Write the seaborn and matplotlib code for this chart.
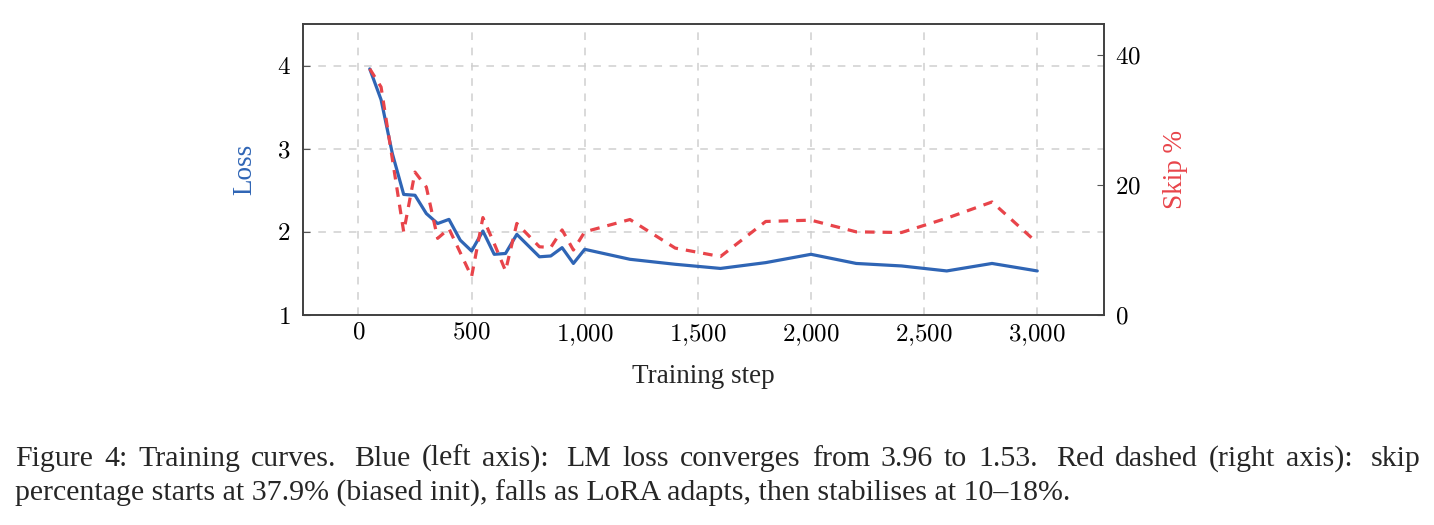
import matplotlib
matplotlib.use("Agg")
import matplotlib.pyplot as plt
import matplotlib.ticker as mticker
import seaborn as sns
import pandas as pd

# ---- data ----
steps_loss = [50, 100, 150, 200, 250, 300, 350, 400, 450, 500, 550, 600, 650, 700,
              800, 850, 900, 950, 1000, 1200, 1400, 1600, 1800, 2000, 2200, 2400,
              2600, 2800, 3000]
loss = [3.96, 3.59, 2.94, 2.45, 2.44, 2.22, 2.10, 2.15, 1.90, 1.77, 2.01, 1.73, 1.74, 1.97,
        1.70, 1.71, 1.81, 1.62, 1.79, 1.67, 1.61, 1.56, 1.63, 1.73, 1.62, 1.59,
        1.53, 1.62, 1.53]

steps_skip = [50, 100, 150, 200, 250, 300, 350, 400, 500, 550, 600, 650, 700,
              800, 850, 900, 950, 1000, 1200, 1400, 1600, 1800, 2000, 2200, 2400,
              2600, 2800, 3000]
skip = [37.9, 35.1, 24.0, 12.8, 22.0, 19.7, 11.8, 13.3, 5.9, 15.0, 11.0, 6.8, 14.1,
        10.5, 10.4, 13.1, 10.0, 12.8, 14.7, 10.3, 9.0, 14.4, 14.6, 12.8, 12.7,
        14.9, 17.4, 11.1]

x_ticks = [0, 500, 1000, 1500, 2000, 2500, 3000]
loss_ticks = [1, 2, 3, 4]
skip_ticks = [0, 20, 40]

caption_line1 = ("Figure 4: Training curves.  Blue (left axis): LM loss converges from 3.96 to 1.53.  "
                 "Red dashed (right axis):  skip")
caption_line2 = ("percentage starts at 37.9% (biased init), falls as LoRA adapts, "
                 "then stabilises at 10\u201318%.")

BLUE = "#2F65B5"
RED = "#E8444A"

sns.set_theme(style="white")
plt.rcParams['font.family'] = ['Liberation Serif', 'DejaVu Serif']
plt.rcParams['mathtext.fontset'] = 'cm'

W, H = 1434, 525
fig = plt.figure(figsize=(W / 100, H / 100), dpi=100)
ax = fig.add_axes([303 / W, 1 - 315 / H, (1104 - 303) / W, (315 - 24) / H])
ax2 = ax.twinx()

df_loss = pd.DataFrame({"step": steps_loss, "loss": loss})
df_skip = pd.DataFrame({"step": steps_skip, "skip": skip})

sns.lineplot(data=df_loss, x="step", y="loss", ax=ax, color=BLUE, linewidth=2.3)
sns.lineplot(data=df_skip, x="step", y="skip", ax=ax2, color=RED, linewidth=2.3,
             linestyle=(0, (3.0, 2.5)))

ax.set_xlim(-245, 3295)
ax.set_ylim(1, 4.5)
ax2.set_ylim(0, 44.8)


def math_fmt(v, p):
    s = f"{int(round(v)):,}".replace(",", "{,}")
    return f"${s}$"


ax.set_xticks(x_ticks)
ax.xaxis.set_major_formatter(mticker.FuncFormatter(math_fmt))
ax.set_yticks(loss_ticks)
ax.yaxis.set_major_formatter(mticker.FuncFormatter(math_fmt))
ax2.set_yticks(skip_ticks)
ax2.yaxis.set_major_formatter(mticker.FuncFormatter(math_fmt))

ax.grid(True, color="#cfcfcf", linestyle=(0, (5, 5)), linewidth=1.1)
ax2.grid(False)
ax.set_axisbelow(True)

for a in (ax, ax2):
    for s in a.spines.values():
        s.set_color("#404040")
        s.set_linewidth(1.2)
        s.set_visible(True)

ax.tick_params(axis="x", direction="in", length=5, width=0.8, color="#555555",
               labelsize=18, pad=5, labelcolor="black")
ax.tick_params(axis="y", direction="in", length=5, width=0.8, color="#555555",
               labelsize=18, pad=9, labelcolor="black")
ax2.tick_params(axis="y", direction="in", length=5, width=0.8, color="#555555",
                labelsize=18, pad=8, labelcolor="black")

ax.set_xlabel("Training step", fontsize=19.5, labelpad=12)
ax.set_ylabel("Loss", fontsize=19.5, color=BLUE, labelpad=14)
ax2.set_ylabel("Skip %", fontsize=19.5, color=RED, labelpad=16)

# ---- caption (line 1 justified to the full width, line 2 left aligned) ----
CAP_FS = 21.5
x_left, x_right = 15, 1420
y1 = 1 - 466 / H
y2 = 1 - 501 / H
renderer = fig.canvas.get_renderer()
words = caption_line1.split()
texts = [fig.text(0, y1, w, fontsize=CAP_FS, ha="left", va="baseline") for w in words]
widths = [t.get_window_extent(renderer).width for t in texts]
weights = []
for w in words[:-1]:
    weights.append(1.6 if (w.endswith(".") or w.endswith("):")) else 1.0)
gap_unit = (x_right - x_left - sum(widths)) / sum(weights)
xpos = x_left
for i, t in enumerate(texts):
    t.set_x(xpos / W)
    if i < len(weights):
        xpos += widths[i] + gap_unit * weights[i]
fig.text(x_left / W, y2, caption_line2, fontsize=CAP_FS, ha="left", va="baseline")

fig.savefig("out.png", dpi=100)
